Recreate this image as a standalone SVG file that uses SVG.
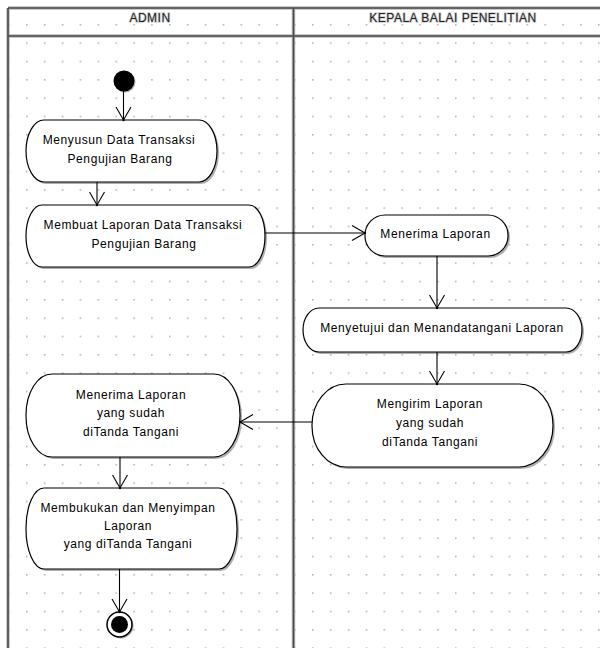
<svg xmlns="http://www.w3.org/2000/svg" width="600" height="648" viewBox="0 0 600 648">
  <defs>
    <pattern id="grid" patternUnits="userSpaceOnUse" x="26" y="24" width="17.875" height="18.333">
      <rect x="0" y="0" width="1.6" height="1.6" fill="#b5b5b5"/>
    </pattern>
    <marker id="open" markerUnits="userSpaceOnUse" viewBox="-14 -9 16 18" refX="0" refY="0" markerWidth="16" markerHeight="18" orient="auto" overflow="visible">
      <path d="M -13 -7.5 L 0 0 L -13 7.5" fill="none" stroke="#000" stroke-width="1.1"/>
      <circle cx="0" cy="0" r="1.2" fill="#000"/>
    </marker>
  </defs>
  <style>
    .lane { stroke: #4a4a4a; stroke-width: 1.6; fill: none; }
    .halo { stroke: #b8b8b8; stroke-width: 3.5; fill: none; }
    .head { font-family: "Liberation Sans", Arial, sans-serif; font-size: 12px; letter-spacing: 0.5px; fill: #222; text-anchor: middle; stroke: #d2d2d2; stroke-width: 1.6px; paint-order: stroke; }
    .shadow { fill: #b0b0b0; }
    .box { fill: #fff; stroke: #000; stroke-width: 1.2; }
    .lbl { font-family: "Liberation Sans", Arial, sans-serif; font-size: 12px; letter-spacing: 0.6px; fill: #000; text-anchor: middle; }
    .flow { stroke: #000; stroke-width: 1.1; fill: none; marker-end: url(#open); }
  </style>

  <!-- background and dotted grid -->
  <rect x="0" y="0" width="600" height="648" fill="#fff"/>
  <rect x="8" y="8" width="592" height="640" fill="url(#grid)"/>

  <!-- swimlane frame -->
  <g id="swimlanes">
    <line class="halo" x1="8" y1="8" x2="600" y2="8"/>
    <line class="halo" x1="8" y1="36" x2="600" y2="36"/>
    <line class="halo" x1="8" y1="8" x2="8" y2="648"/>
    <line class="halo" x1="293.5" y1="8" x2="293.5" y2="648"/>
    <line class="lane" x1="8" y1="8" x2="600" y2="8"/>
    <line class="lane" x1="8" y1="36" x2="600" y2="36"/>
    <line class="lane" x1="8" y1="8" x2="8" y2="648"/>
    <line class="lane" x1="293.5" y1="8" x2="293.5" y2="648"/>
    <text class="head" x="150" y="22">ADMIN</text>
    <text class="head" x="453" y="22">KEPALA BALAI PENELITIAN</text>
  </g>

  <!-- start -->
  <g id="start">
    <circle cx="125" cy="82" r="10.5" fill="#b0b0b0"/>
    <circle cx="124" cy="81" r="10.5" fill="#000"/>
  </g>

  <g id="menyusun">
    <rect class="shadow" x="28" y="122" width="191" height="62" rx="18" ry="31"/>
    <rect class="box" x="26" y="120" width="191" height="62" rx="18" ry="31"/>
    <text class="lbl" x="119" y="143.5">Menyusun Data Transaksi</text>
    <text class="lbl" x="120" y="162.5">Pengujian Barang</text>
  </g>

  <g id="membuat">
    <rect class="shadow" x="28" y="207" width="239" height="62" rx="16" ry="31"/>
    <rect class="box" x="26" y="205" width="239" height="62" rx="16" ry="31"/>
    <text class="lbl" x="143" y="229.3">Membuat Laporan Data Transaksi</text>
    <text class="lbl" x="144" y="247.7">Pengujian Barang</text>
  </g>

  <g id="menerima-kepala">
    <rect class="shadow" x="367" y="217" width="143" height="41" rx="20" ry="20"/>
    <rect class="box" x="365" y="215" width="143" height="41" rx="20" ry="20"/>
    <text class="lbl" x="435.5" y="238.3">Menerima Laporan</text>
  </g>

  <g id="menyetujui">
    <rect class="shadow" x="305" y="310" width="279" height="44" rx="16" ry="22"/>
    <rect class="box" x="303" y="308" width="279" height="44" rx="16" ry="22"/>
    <text class="lbl" x="442" y="332.3">Menyetujui dan Menandatangani Laporan</text>
  </g>

  <g id="mengirim">
    <rect class="shadow" x="314" y="386" width="241" height="83" rx="34" ry="41"/>
    <rect class="box" x="312" y="384" width="241" height="83" rx="34" ry="41"/>
    <text class="lbl" x="430" y="408.3">Mengirim Laporan</text>
    <text class="lbl" x="430" y="426.7">yang sudah</text>
    <text class="lbl" x="430" y="446">diTanda Tangani</text>
  </g>

  <g id="menerima-admin">
    <rect class="shadow" x="28" y="376" width="214" height="83" rx="26" ry="41"/>
    <rect class="box" x="26" y="374" width="214" height="83" rx="26" ry="41"/>
    <text class="lbl" x="131" y="399">Menerima Laporan</text>
    <text class="lbl" x="131" y="417.3">yang sudah</text>
    <text class="lbl" x="131" y="436">diTanda Tangani</text>
  </g>

  <g id="membukukan">
    <rect class="shadow" x="28" y="490" width="211" height="81" rx="18" ry="40"/>
    <rect class="box" x="26" y="488" width="211" height="81" rx="18" ry="40"/>
    <text class="lbl" x="128" y="511.7">Membukukan dan Menyimpan</text>
    <text class="lbl" x="128" y="530">Laporan</text>
    <text class="lbl" x="128" y="548.3">yang diTanda Tangani</text>
  </g>

  <!-- end -->
  <g id="end">
    <circle cx="121" cy="626" r="12.5" fill="#b0b0b0"/>
    <circle cx="119.5" cy="624.5" r="12.5" fill="#fff" stroke="#000" stroke-width="1.5"/>
    <circle cx="119.5" cy="624.5" r="8.5" fill="#000"/>
  </g>

  <!-- control flows -->
  <g id="connectors">
    <line class="flow" x1="123.5" y1="91" x2="123.5" y2="120"/>
    <line class="flow" x1="97" y1="182" x2="97" y2="205"/>
    <line class="flow" x1="265" y1="233" x2="365" y2="233"/>
    <line class="flow" x1="437" y1="256" x2="437" y2="308"/>
    <line class="flow" x1="437" y1="352" x2="437" y2="384"/>
    <line class="flow" x1="312" y1="422" x2="240" y2="422"/>
    <line class="flow" x1="120" y1="457" x2="120" y2="488"/>
    <line class="flow" x1="119.5" y1="569" x2="119.5" y2="612"/>
  </g>
</svg>
